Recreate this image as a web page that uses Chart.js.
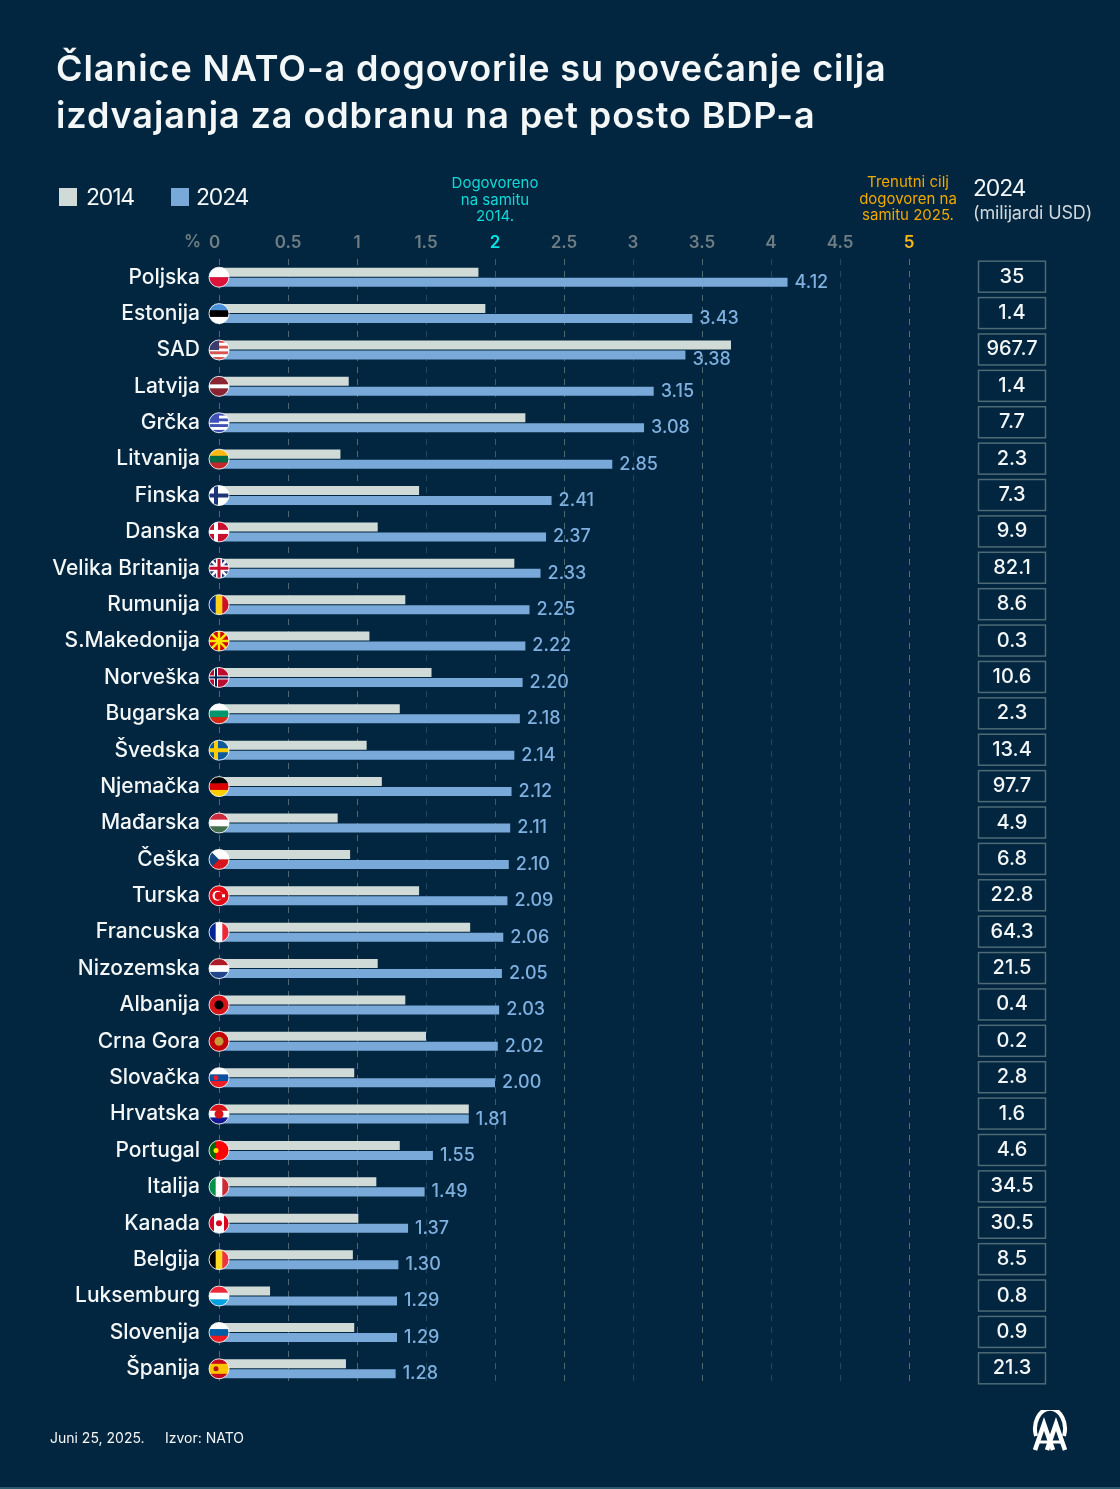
<!DOCTYPE html>
<html lang="hr">
<head>
<meta charset="utf-8">
<title>Članice NATO-a</title>
<script src="https://cdn.jsdelivr.net/npm/chart.js@4/dist/chart.umd.min.js"></script>
<style>
  html, body { margin: 0; background: #02263f; }
  body { position: relative; width: 1120px; height: 1489px; overflow: hidden; font-family: Inter, sans-serif; color: #f4f7f7; }
  canvas { position: absolute; left: 0; top: 0; }
  .txt { position: absolute; white-space: nowrap; }
  #naslov { left: 56px; top: 45px; font-size: 36px; line-height: 47px; font-weight: 600; letter-spacing: 0.9px; }
  .kvadrat { position: absolute; top: 188px; width: 18px; height: 18px; }
  .leg { top: 183px; font-size: 23px; line-height: 28px; letter-spacing: -1.2px; }
  .nota { font-size: 15px; line-height: 16.5px; text-align: center; transform: translateX(-50%); }
  .dno { top: 1429px; font-size: 14px; line-height: 17px; }
  #logo { position: absolute; left: 1030px; top: 1410px; }
  #linija { position: absolute; left: 0; top: 1487px; width: 1120px; height: 2px; background: #2c5a6b; }
</style>
</head>
<body>
<canvas id="grafik" width="1120" height="1489"></canvas>

<div class="txt" id="naslov">Članice NATO-a dogovorile su povećanje cilja<br>izdvajanja za odbranu na pet posto BDP-a</div>

<div class="kvadrat" style="left:59px;background:#d0dbd8"></div>
<div class="txt leg" style="left:86px">2014</div>
<div class="kvadrat" style="left:171px;background:#78a9d8"></div>
<div class="txt leg" style="left:196px">2024</div>

<div class="txt nota" style="left:495px;top:175px;color:#12d8d8">Dogovoreno<br>na samitu<br>2014.</div>
<div class="txt nota" style="left:908px;top:174px;color:#f2a900">Trenutni cilj<br>dogovoren na<br>samitu 2025.</div>

<div class="txt" style="left:973px;top:174px;font-size:23px;line-height:28px;letter-spacing:-1.2px">2024</div>
<div class="txt" style="left:973px;top:202px;font-size:18px;line-height:22px;letter-spacing:-0.15px;color:#cfd8dc">(milijardi USD)</div>

<div class="txt dno" style="left:50px">Juni 25, 2025.</div>
<div class="txt dno" style="left:165px">Izvor: NATO</div>

<svg id="logo" width="40" height="42" viewBox="0 0 40 42" fill="none" stroke="#fff">
  <path d="M6 26 A 15 20 0 1 1 34 26" stroke-width="4"/>
  <path d="M5 40 L14 14 L23 40" stroke-width="4.5"/>
  <path d="M17 40 L26 14 L35 40" stroke-width="4.5"/>
  <path d="M9 32 H18 M22 32 H31" stroke-width="3"/>
</svg>
<div id="linija"></div>

<script>
const zemlje = ["Poljska", "Estonija", "SAD", "Latvija", "Grčka", "Litvanija", "Finska", "Danska", "Velika Britanija", "Rumunija", "S.Makedonija", "Norveška", "Bugarska", "Švedska", "Njemačka", "Mađarska", "Češka", "Turska", "Francuska", "Nizozemska", "Albanija", "Crna Gora", "Slovačka", "Hrvatska", "Portugal", "Italija", "Kanada", "Belgija", "Luksemburg", "Slovenija", "Španija"];
const vrijednosti2014 = [1.88, 1.93, 3.71, 0.94, 2.22, 0.88, 1.45, 1.15, 2.14, 1.35, 1.09, 1.54, 1.31, 1.07, 1.18, 0.86, 0.95, 1.45, 1.82, 1.15, 1.35, 1.50, 0.98, 1.81, 1.31, 1.14, 1.01, 0.97, 0.37, 0.98, 0.92];
const vrijednosti2024 = [4.12, 3.43, 3.38, 3.15, 3.08, 2.85, 2.41, 2.37, 2.33, 2.25, 2.22, 2.20, 2.18, 2.14, 2.12, 2.11, 2.10, 2.09, 2.06, 2.05, 2.03, 2.02, 2.00, 1.81, 1.55, 1.49, 1.37, 1.30, 1.29, 1.29, 1.28];
const milijardi2024 = ["35", "1.4", "967.7", "1.4", "7.7", "2.3", "7.3", "9.9", "82.1", "8.6", "0.3", "10.6", "2.3", "13.4", "97.7", "4.9", "6.8", "22.8", "64.3", "21.5", "0.4", "0.2", "2.8", "1.6", "4.6", "34.5", "30.5", "8.5", "0.8", "0.9", "21.3"];
const xOznake = [0, 0.5, 1, 1.5, 2, 2.5, 3, 3.5, 4, 4.5, 5];
const slabeLinije = [1.5, 3, 4, 4.5];

// Zastave: pruge i po potrebi znak preko njih
const zastave = {
  "Poljska": { h: ["#fff", "#dc143c"] },
  "Estonija": { h: ["#4891d9", "#000", "#fff"] },
  "SAD": { h: ["#d9534f", "#fff", "#d9534f", "#fff", "#d9534f", "#fff", "#d9534f"], kanton: "#3c3b6e" },
  "Latvija": { h: ["#8a2432", "#8a2432", "#fff", "#8a2432", "#8a2432"] },
  "Grčka": { h: ["#3f51b5", "#fff", "#3f51b5", "#fff", "#3f51b5", "#fff", "#3f51b5"], kanton: "#3f51b5" },
  "Litvanija": { h: ["#fdb913", "#006a44", "#c1272d"] },
  "Finska": { h: ["#fff"], krst: "#1c3578" },
  "Danska": { h: ["#c8102e"], krst: "#fff" },
  "Velika Britanija": { h: ["#2a3a7c"], unija: true },
  "Rumunija": { v: ["#002b7f", "#fcd116", "#ce1126"] },
  "S.Makedonija": { h: ["#d20000"], zraci: "#ffe600" },
  "Norveška": { h: ["#ba0c2f"], krst: "#fff", krst2: "#00205b" },
  "Bugarska": { h: ["#fff", "#00966e", "#d62612"] },
  "Švedska": { h: ["#0b5a9e"], krst: "#fecc00" },
  "Njemačka": { h: ["#000", "#dd0000", "#ffce00"] },
  "Mađarska": { h: ["#cd2a3e", "#fff", "#436f4d"] },
  "Češka": { h: ["#fff", "#d7141a"], trougao: "#11457e" },
  "Turska": { h: ["#e30a17"], polumjesec: true },
  "Francuska": { v: ["#002395", "#fff", "#ed2939"] },
  "Nizozemska": { h: ["#ae1c28", "#fff", "#21468b"] },
  "Albanija": { h: ["#d7141a"], tacka: "#000" },
  "Crna Gora": { h: ["#c40308"], tacka: "#c79a3a" },
  "Slovačka": { h: ["#fff", "#0b4ea2", "#ee1c25"], tacka2: "#ee1c25" },
  "Hrvatska": { h: ["#d7141a", "#fff", "#171796"], tacka: "#d7141a" },
  "Portugal": { v: ["#006600", "#ff0000", "#ff0000"], tacka2: "#ffe600" },
  "Italija": { v: ["#009246", "#fff", "#ce2b37"] },
  "Kanada": { v: ["#d80621", "#fff", "#fff", "#d80621"], tacka3: "#d80621" },
  "Belgija": { v: ["#000", "#fdda24", "#ef3340"] },
  "Luksemburg": { h: ["#ed2939", "#fff", "#00a1de"] },
  "Slovenija": { h: ["#fff", "#005da4", "#ed1c24"], tacka2: "#005da4" },
  "Španija": { h: ["#c60b1e", "#ffc400", "#ffc400", "#c60b1e"], tacka2: "#ad1519" },
};

function crtajZastavu(ctx, ime, x, y, r) {
  const z = zastave[ime];
  ctx.save();
  ctx.beginPath();
  ctx.arc(x, y, r, 0, Math.PI * 2);
  ctx.clip();

  const pruge = z.h || z.v;
  const korak = (r * 2) / pruge.length;
  pruge.forEach((boja, i) => {
    ctx.fillStyle = boja;
    if (z.h) ctx.fillRect(x - r, y - r + i * korak, r * 2, korak + 0.5);
    else ctx.fillRect(x - r + i * korak, y - r, korak + 0.5, r * 2);
  });

  if (z.kanton) {
    ctx.fillStyle = z.kanton;
    ctx.fillRect(x - r, y - r, r, r);
  }
  if (z.krst) {
    ctx.fillStyle = z.krst;
    ctx.fillRect(x - 5, y - r, 4, r * 2);
    ctx.fillRect(x - r, y - 2, r * 2, 4);
  }
  if (z.krst2) {
    ctx.fillStyle = z.krst2;
    ctx.fillRect(x - 4, y - r, 2, r * 2);
    ctx.fillRect(x - r, y - 1, r * 2, 2);
  }
  if (z.unija) {
    ctx.strokeStyle = "#fff";
    ctx.lineWidth = 2.5;
    ctx.beginPath();
    ctx.moveTo(x - r, y - r);
    ctx.lineTo(x + r, y + r);
    ctx.moveTo(x + r, y - r);
    ctx.lineTo(x - r, y + r);
    ctx.stroke();
    ctx.fillStyle = "#fff";
    ctx.fillRect(x - 3, y - r, 6, r * 2);
    ctx.fillRect(x - r, y - 3, r * 2, 6);
    ctx.fillStyle = "#c8102e";
    ctx.fillRect(x - 1.5, y - r, 3, r * 2);
    ctx.fillRect(x - r, y - 1.5, r * 2, 3);
  }
  if (z.zraci) {
    ctx.strokeStyle = z.zraci;
    ctx.lineWidth = 2.5;
    for (let i = 0; i < 8; i++) {
      const ugao = (i * Math.PI) / 4;
      ctx.beginPath();
      ctx.moveTo(x, y);
      ctx.lineTo(x + Math.cos(ugao) * r, y + Math.sin(ugao) * r);
      ctx.stroke();
    }
  }
  if (z.trougao) {
    ctx.fillStyle = z.trougao;
    ctx.beginPath();
    ctx.moveTo(x - r, y - r);
    ctx.lineTo(x, y);
    ctx.lineTo(x - r, y + r);
    ctx.fill();
  }
  if (z.polumjesec) {
    ctx.fillStyle = "#fff";
    ctx.beginPath();
    ctx.arc(x - 1.5, y, 5, 0, Math.PI * 2);
    ctx.fill();
    ctx.fillStyle = "#e30a17";
    ctx.beginPath();
    ctx.arc(x - 0.3, y, 4, 0, Math.PI * 2);
    ctx.fill();
    ctx.fillStyle = "#fff";
    ctx.fillRect(x + 3, y - 1.5, 3, 3);
  }
  if (z.tacka) {
    ctx.fillStyle = z.tacka;
    ctx.beginPath();
    ctx.arc(x, y, 4.5, 0, Math.PI * 2);
    ctx.fill();
  }
  if (z.tacka2) {
    ctx.fillStyle = z.tacka2;
    ctx.beginPath();
    ctx.arc(x - 3, y, 2.5, 0, Math.PI * 2);
    ctx.fill();
  }
  if (z.tacka3) {
    ctx.fillStyle = z.tacka3;
    ctx.beginPath();
    ctx.arc(x, y, 3, 0, Math.PI * 2);
    ctx.fill();
  }
  ctx.restore();

  ctx.strokeStyle = "rgba(255,255,255,0.85)";
  ctx.lineWidth = 1;
  ctx.beginPath();
  ctx.arc(x, y, r, 0, Math.PI * 2);
  ctx.stroke();
}

// Zastave, vrijednosti uz trake i kolona s milijardama
const dodaci = {
  id: "dodaci",
  afterDatasetsDraw(chart) {
    const ctx = chart.ctx;
    const xScale = chart.scales.x;
    const yScale = chart.scales.y;

    ctx.save();
    ctx.textBaseline = "middle";

    ctx.font = "600 17px Inter";
    ctx.fillStyle = "#6f7e84";
    ctx.textAlign = "right";
    ctx.fillText("%", 201, 242);

    zemlje.forEach((ime, i) => {
      const y = yScale.getPixelForValue(i);
      crtajZastavu(ctx, ime, xScale.getPixelForValue(0), y, 10);

      const traka = chart.getDatasetMeta(1).data[i];
      ctx.font = "500 18px Inter";
      ctx.fillStyle = "#7fb0e0";
      ctx.textAlign = "left";
      // SAD: oznaka je malo spustena jer bi inace udarila u traku iz 2014.
      ctx.fillText(vrijednosti2024[i].toFixed(2), traka.x + 7, traka.y + (ime === "SAD" ? 5 : 0));

      ctx.strokeStyle = "#4d6a75";
      ctx.lineWidth = 1.5;
      ctx.strokeRect(978.5, y - 16, 67, 31);
      ctx.font = "500 20px Inter";
      ctx.fillStyle = "#f4f7f7";
      ctx.textAlign = "center";
      ctx.fillText(milijardi2024[i], 1012, y - 0.5);
    });
    ctx.restore();
  },
};

new Chart(document.getElementById("grafik"), {
  type: "bar",
  data: {
    labels: zemlje,
    datasets: [
      { label: "2014", data: vrijednosti2014, backgroundColor: "#d0dbd8", categoryPercentage: 0.55, barPercentage: 0.9 },
      { label: "2024", data: vrijednosti2024, backgroundColor: "#78a9d8", categoryPercentage: 0.55, barPercentage: 0.9 },
    ],
  },
  options: {
    indexAxis: "y",
    responsive: false,
    animation: false,
    layout: { padding: { left: 0, right: 211, top: 0, bottom: 102 } },
    plugins: { legend: { display: false }, tooltip: { enabled: false } },
    scales: {
      x: {
        position: "top",
        min: 0,
        max: 5,
        afterFit(scale) { scale.height = 259; },
        afterBuildTicks(scale) { scale.ticks = xOznake.map((v) => ({ value: v })); },
        border: { display: false, dash: [6, 6] },
        grid: {
          drawTicks: false,
          color(c) {
            if (c.tick.value === 2) return "#0f6f78";
            if (c.tick.value === 5) return "#7a6c2a";
            if (slabeLinije.includes(c.tick.value)) return "#1b4a5f";
            return "#55686f";
          },
        },
        ticks: {
          padding: 6,
          autoSkip: false,
          maxRotation: 0,
          // razmaci guraju nulu malo ulijevo od njene linije
          callback: (v) => (v === 0 ? "0  " : String(v)),
          color(c) {
            if (c.tick.value === 2) return "#00e5e5";
            if (c.tick.value === 5) return "#fdb813";
            return "#6f7e84";
          },
          font: { family: "Inter", size: 17, weight: "600" },
        },
      },
      y: {
        afterFit(scale) { scale.width = 219; },
        border: { display: false },
        grid: { display: false, drawTicks: false },
        ticks: {
          padding: 19,
          autoSkip: false,
          color: "#f4f7f7",
          font: { family: "Inter", size: 21, weight: "500" },
        },
      },
    },
  },
  plugins: [dodaci],
});
</script>
</body>
</html>
